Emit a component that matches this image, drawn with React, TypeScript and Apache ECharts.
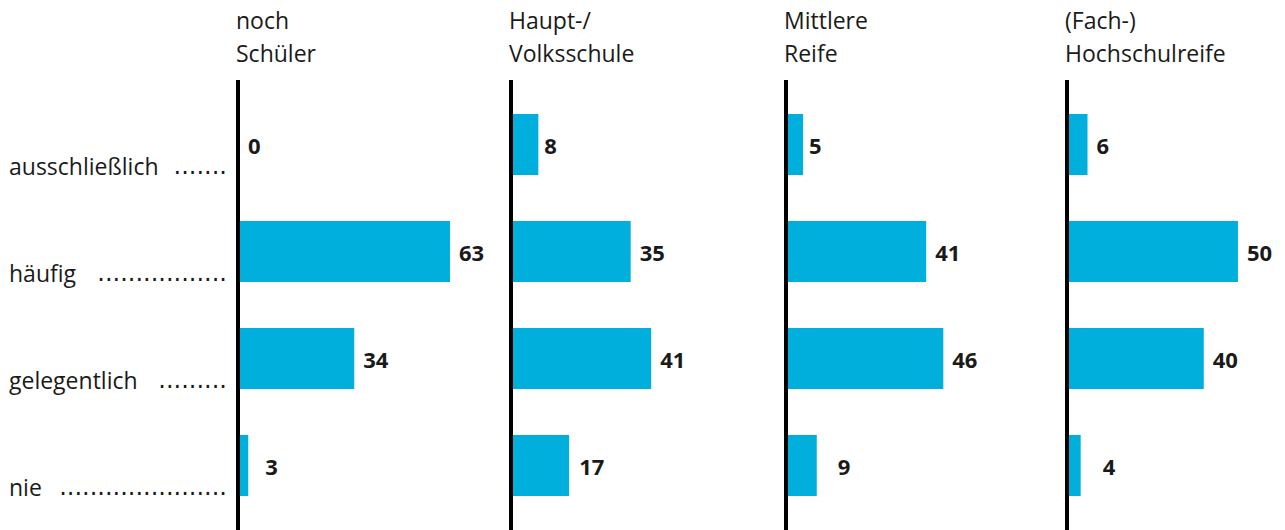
import React, { useEffect, useRef } from "react";
import * as echarts from "echarts";

const categories = ["ausschließlich", "häufig", "gelegentlich", "nie"];
const panelTitles = ["noch\nSchüler", "Haupt-/\nVolksschule", "Mittlere\nReife", "(Fach-)\nHochschulreife"];
const nochSchueler = [0, 63, 34, 3];
const hauptVolksschule = [8, 35, 41, 17];
const mittlereReife = [5, 41, 46, 9];
const hochschulreife = [6, 50, 40, 4];
const panelValues = [nochSchueler, hauptVolksschule, mittlereReife, hochschulreife];
// extra label distance for a few small bars (styling)
const labelNudge = [
  [1, 0, 0, 8],
  [-3, 0, 0, 1],
  [-3, 0, 0, 12],
  [0, 0, 0, 13],
];

const panelLefts = [238, 511, 786, 1067];
const FONT = "'Open Sans', 'Noto Sans', sans-serif";
const DOTFONT = "'DejaVu Sans', sans-serif";
const BAR = "#00AFDB";
const INK = "#1a1a1a";
const LABEL_LEFT = 9;

function measure(text: string, font: string) {
  const c = document.createElement("canvas").getContext("2d")!;
  c.font = font;
  return c.measureText(text).width;
}

export default function App() {
  const ref = useRef<HTMLDivElement>(null);
  useEffect(() => {
    document.body.style.margin = "0";
    const chart = echarts.init(ref.current!, null, { renderer: "svg" });
    const labelSpan = panelLefts[0] - 11 - LABEL_LEFT;
    const dotW = measure(".", "24px " + DOTFONT) || 7.6;
    const wordW = categories.map((c) => measure(c, "23px " + FONT));
    const grids = panelLefts.map((l) => ({ left: l, top: 91, width: 212, height: 428 }));
    const xAxes = panelLefts.map((_, i) => ({
      type: "value",
      gridIndex: i,
      min: 0,
      max: 62,
      show: false,
    }));
    const yAxes = panelLefts.map((_, i) => ({
      type: "category",
      gridIndex: i,
      inverse: true,
      data: categories,
      axisLine: { show: false },
      axisTick: { show: false },
      splitLine: { show: false },
      axisLabel: {
        show: i === 0,
        margin: 11,
        fontSize: 23,
        lineHeight: 43,
        fontFamily: FONT,
        color: INK,
        formatter: (v: string, idx: number) => {
          const w = Math.max(20, labelSpan - wordW[idx]);
          const n = Math.max(1, Math.floor((w - 14) / dotW));
          return "\n{w|" + v + "}{d" + idx + "|" + ".".repeat(n) + "}";
        },
        rich: {
          w: { fontSize: 23, lineHeight: 43, fontFamily: FONT, color: INK },
          ...Object.fromEntries(
            categories.map((_, k) => [
              "d" + k,
              {
                fontSize: 24,
                lineHeight: 43,
                fontFamily: DOTFONT,
                color: INK,
                width: Math.max(20, labelSpan - wordW[k]),
                align: "right",
              },
            ])
          ),
        },
      },
    }));
    const series = panelValues.map((vals, i) => ({
      type: "bar",
      xAxisIndex: i,
      yAxisIndex: i,
      barWidth: 61,
      itemStyle: { color: BAR },
      data: vals.map((v, j) => ({
        value: v,
        label: { distance: 9 + labelNudge[i][j] },
      })),
      label: {
        show: true,
        position: "right",
        distance: 9,
        fontSize: 22,
        fontWeight: "bold",
        fontFamily: FONT,
        color: INK,
      },
    }));
    const titles = panelLefts.map((l, i) => ({
      text: panelTitles[i],
      left: l - 2,
      top: 3,
      padding: 0,
      textStyle: {
        fontSize: 23,
        lineHeight: 33,
        fontWeight: "normal",
        fontFamily: FONT,
        color: INK,
      },
    }));
    const graphic = panelLefts.map((l) => ({
      type: "line",
      z: 100,
      shape: { x1: l, y1: 80, x2: l, y2: 530 },
      style: { stroke: "#000", lineWidth: 4 },
    }));
    chart.setOption({
      animation: false,
      backgroundColor: "#fff",
      title: titles,
      grid: grids,
      xAxis: xAxes,
      yAxis: yAxes,
      series,
      graphic,
    });
    return () => chart.dispose();
  }, []);
  return <div ref={ref} style={{ width: 1285, height: 530 }} />;
}
